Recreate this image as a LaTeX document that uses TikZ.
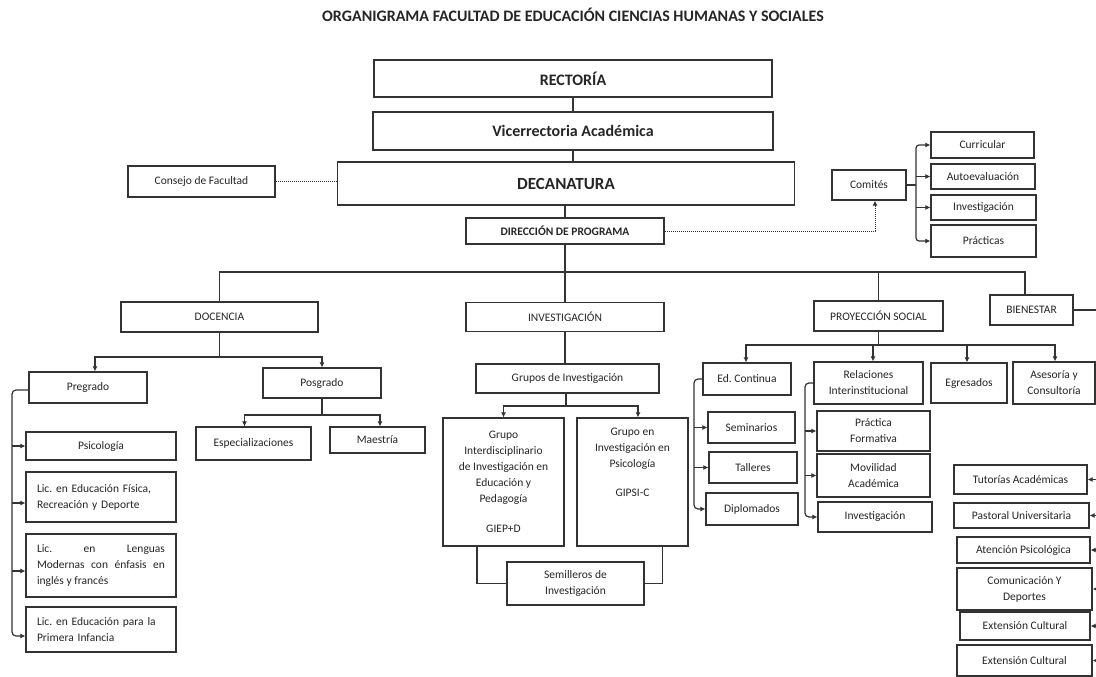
\documentclass[tikz,border=0pt]{standalone}
\usepackage{fontspec}
\setmainfont{Carlito}
\usetikzlibrary{arrows.meta}
\frenchspacing
\begin{document}
\frenchspacing
\begin{tikzpicture}[x=1pt,y=-1pt,
  box/.style={draw=black!80, line width=1.2pt, fill=white, inner sep=2pt, align=center, text=black!85, font=\fontsize{11.5}{16}\selectfont},
  hdr/.style={font=\bfseries\fontsize{16}{18}\selectfont},
  ln/.style={line width=1.2pt, draw=black!80},
  arrowed/.style={ln, -{Latex[length=5pt,width=5pt]}},
  dots/.style={draw=black!80, line width=1pt, densely dotted}]
\useasboundingbox (0,0) rectangle (1096,677);
\clip (0,0) rectangle (1096,677);

% title
\node[text=black!85, font=\bfseries\fontsize{16}{18}\selectfont] (title) at (573,15) {ORGANIGRAMA FACULTAD DE EDUCACIÓN CIENCIAS HUMANAS Y SOCIALES};

% top
\node[box,hdr,minimum width=398pt,minimum height=37pt] (rect) at (573,78.5) {RECTORÍA};
\node[box,hdr,minimum width=400pt,minimum height=38pt] (vice) at (573,131) {Vicerrectoria Académica};
\node[box,minimum width=457pt,minimum height=43pt,font=\bfseries\fontsize{17}{19}\selectfont] (deca) at (566,183.5) {DECANATURA};
\node[box,minimum width=147pt,minimum height=31pt] (cons) at (201.5,181.5) {Consejo de Facultad};
\node[box,minimum width=198pt,minimum height=26pt,font=\bfseries\fontsize{11.5}{13}\selectfont] (dir) at (565,231) {DIRECCIÓN DE PROGRAMA};

% comites
\node[box,minimum width=74pt,minimum height=30pt] (comi) at (869,185) {Comités};
\node[box,minimum width=103pt,minimum height=26pt] (cur) at (982.5,145) {Curricular};
\node[box,minimum width=104pt,minimum height=25pt] (aut) at (983,176.5) {Autoevaluación};
\node[box,minimum width=105pt,minimum height=25pt] (invc) at (983.5,207.5) {Investigación};
\node[box,minimum width=105pt,minimum height=32pt] (pra) at (983.5,241) {Prácticas};

% second level
\node[box,minimum width=197pt,minimum height=30pt] (doc) at (219.5,317) {DOCENCIA};
\node[box,minimum width=198pt,minimum height=29pt] (inv) at (565,317) {INVESTIGACIÓN};
\node[box,minimum width=129pt,minimum height=30pt] (proy) at (878.5,316) {PROYECCIÓN SOCIAL};
\node[box,minimum width=83pt,minimum height=30pt] (bien) at (1031.5,310) {BIENESTAR};

% docencia
\node[box,minimum width=118pt,minimum height=31pt] (preg) at (88,387.5) {Pregrado};
\node[box,minimum width=118pt,minimum height=30pt] (posg) at (322,383) {Posgrado};
\node[box,minimum width=115pt,minimum height=33pt] (esp) at (253.5,443.5) {Especializaciones};
\node[box,minimum width=95pt,minimum height=26pt] (mae) at (377.5,440) {Maestría};
\node[box,minimum width=150pt,minimum height=28pt] (psi) at (101,446) {Psicología};
\node[box,minimum width=150pt,minimum height=50pt,text width=128pt,inner xsep=10pt,align=left] (lef) at (101,497) {Lic. en Educación Física,\\Recreación y Deporte};
\node[box,minimum width=150pt,minimum height=63pt,text width=128pt,inner xsep=10pt,align=justify] (llm) at (101,565.5) {Lic. en Lenguas\linebreak Modernas con énfasis en\linebreak inglés y francés};
\node[box,minimum width=150pt,minimum height=45pt,text width=128pt,inner xsep=10pt,align=left] (lep) at (101,629.5) {Lic. en Educación para la\\Primera Infancia};

% investigacion
\node[box,minimum width=183pt,minimum height=29pt] (gi) at (567.5,378.5) {Grupos de Investigación};
\node[box,minimum width=121pt,minimum height=128pt] (gid) at (503.5,482) {Grupo\\Interdisciplinario\\de Investigación en\\Educación y\\Pedagogía\\[14pt]GIEP+D};
\node[box,minimum width=111pt,minimum height=128pt] (gip) at (632.5,482) {Grupo en\\Investigación en\\Psicología\\[13pt]GIPSI-C\\[24pt]\mbox{}};
\node[box,minimum width=137pt,minimum height=43pt] (sem) at (575.5,583.5) {Semilleros de\\Investigación};

% proyeccion social
\node[box,minimum width=88pt,minimum height=32pt] (edc) at (747,379) {Ed. Continua};
\node[box,minimum width=109pt,minimum height=42pt] (rel) at (868.5,383) {Relaciones\\Interinstitucional};
\node[box,minimum width=76pt,minimum height=40pt] (egr) at (969,383) {Egresados};
\node[box,minimum width=82pt,minimum height=42pt] (ase) at (1054,383) {Asesoría y\\Consultoría};
\node[box,minimum width=87pt,minimum height=31pt] (semi) at (751.5,427.5) {Seminarios};
\node[box,minimum width=88pt,minimum height=31pt] (tal) at (753,467.5) {Talleres};
\node[box,minimum width=92pt,minimum height=32pt] (dip) at (752,509) {Diplomados};
\node[box,minimum width=113pt,minimum height=40pt] (pfo) at (873.5,431) {Práctica\\Formativa};
\node[box,minimum width=113pt,minimum height=43pt] (mov) at (873.5,475.5) {Movilidad\\Académica};
\node[box,minimum width=114pt,minimum height=30pt] (invr) at (875,517) {Investigación};

% bienestar
\node[box,minimum width=133pt,minimum height=29pt] (tut) at (1020.5,479.5) {Tutorías Académicas};
\node[box,minimum width=135pt,minimum height=25pt] (pas) at (1021.5,515.5) {Pastoral Universitaria};
\node[box,minimum width=133pt,minimum height=26pt] (ate) at (1023.5,550) {Atención Psicológica};
\node[box,minimum width=135pt,minimum height=42pt] (com) at (1024.5,589) {Comunicación Y\\Deportes};
\node[box,minimum width=130pt,minimum height=28pt] (ext1) at (1025,626) {Extensión Cultural};
\node[box,minimum width=135pt,minimum height=31pt] (ext2) at (1024.5,660.5) {Extensión Cultural};

% ---- connectors ----
\draw[ln] (rect) -- (vice);
\draw[ln] (vice.south) -- (vice.south |- deca.north);
\draw[ln] (dir.north |- deca.south) -- (dir.north);
\draw[dots] (cons.east) -- (cons.east -| deca.west);
\draw[dots, -{Latex[length=5pt,width=5pt]}] (dir.east) -| ([xshift=6pt]comi.south);

% comites branches
\coordinate (ct) at (916,145);
\coordinate (cbt) at (916,241);
\draw[ln] (comi.east) -- (comi.east -| ct);
\draw[arrowed, rounded corners=3pt] (comi.east -| ct) -- (ct) -- (cur.west);
\draw[arrowed, rounded corners=3pt] (comi.east -| ct) -- (cbt) -- (pra.west);
\draw[arrowed] (aut.west -| ct) -- (aut.west);
\draw[arrowed] (invc.west -| ct) -- (invc.west);

% main bus
\coordinate (bus) at (565,272);
\draw[ln] (dir.south) -- (bus);
\draw[ln] (doc.north) |- (bus) -| ([xshift=-6.5pt]bien.north);
\draw[ln] (bus) -- (inv.north);
\draw[ln] (proy.north) -- (proy.north |- bus);

% docencia
\coordinate (dsp) at (219.5,357);
\draw[ln] (doc.south) -- (dsp);
\draw[arrowed] (dsp) -| ([xshift=7pt]preg.north);
\draw[arrowed] (dsp) -| (posg.north);
\coordinate (psp) at (322,415);
\draw[ln] (posg.south) -- (psp);
\draw[arrowed] (psp) -| ([xshift=-9pt]esp.north);
\draw[arrowed] (psp) -| ([xshift=2.5pt]mae.north);

\coordinate (pl) at (12,636);
\draw[arrowed, rounded corners=4pt] ([yshift=-2.5pt]preg.west) -| (pl) -- ([yshift=-6.5pt]lep.west);
\draw[arrowed] (psi.west -| pl) -- (psi.west);
\draw[arrowed] ([yshift=-6pt]lef.west -| pl) -- ([yshift=-6pt]lef.west);
\draw[arrowed] ([yshift=-5.5pt]llm.west -| pl) -- ([yshift=-5.5pt]llm.west);

% investigacion
\draw[ln] (inv.south) -- (inv.south |- gi.north);
\coordinate (gsp) at (566,406);
\draw[ln] (gi.south -| gsp) -- (gsp);
\draw[arrowed] (gsp) -| (gid.north);
\draw[arrowed] (gsp) -| ([xshift=5.5pt]gip.north);
\draw[ln] ([xshift=-26.5pt]gid.south) |- (sem.west);
\draw[ln] ([xshift=30pt]gip.south) |- (sem.east);

% proyeccion
\coordinate (prsp) at (878.5,345);
\draw[ln] (proy.south) -- (prsp);
\draw[arrowed] (prsp) -| ([xshift=-1pt]edc.north);
\draw[arrowed] (prsp) -| ([xshift=4.5pt]rel.north);
\draw[arrowed] (prsp) -| ([xshift=-2pt]egr.north);
\draw[arrowed] (prsp) -| ([xshift=1pt]ase.north);

\coordinate (el) at (694,509);
\draw[arrowed, rounded corners=4pt] (edc.west) -| (el) -- (dip.west);
\draw[arrowed] (semi.west -| el) -- (semi.west);
\draw[arrowed] (tal.west -| el) -- (tal.west);

\coordinate (rl) at (805,517);
\draw[arrowed, rounded corners=4pt] (rel.west) -| (rl) -- (invr.west);
\draw[arrowed] (pfo.west -| rl) -- (pfo.west);
\draw[arrowed] (mov.west -| rl) -- (mov.west);

% bienestar
\coordinate (bl) at (1108,310);
\draw[ln] (bien.east) -- (bl) -- (bl |- ext2.east);
\draw[arrowed] (tut.east -| bl) -- (tut.east);
\draw[arrowed] (pas.east -| bl) -- (pas.east);
\draw[arrowed] (ate.east -| bl) -- (ate.east);
\draw[arrowed] (com.east -| bl) -- (com.east);
\draw[arrowed] (ext1.east -| bl) -- (ext1.east);
\draw[arrowed] (ext2.east -| bl) -- (ext2.east);
\end{tikzpicture}
\end{document}
